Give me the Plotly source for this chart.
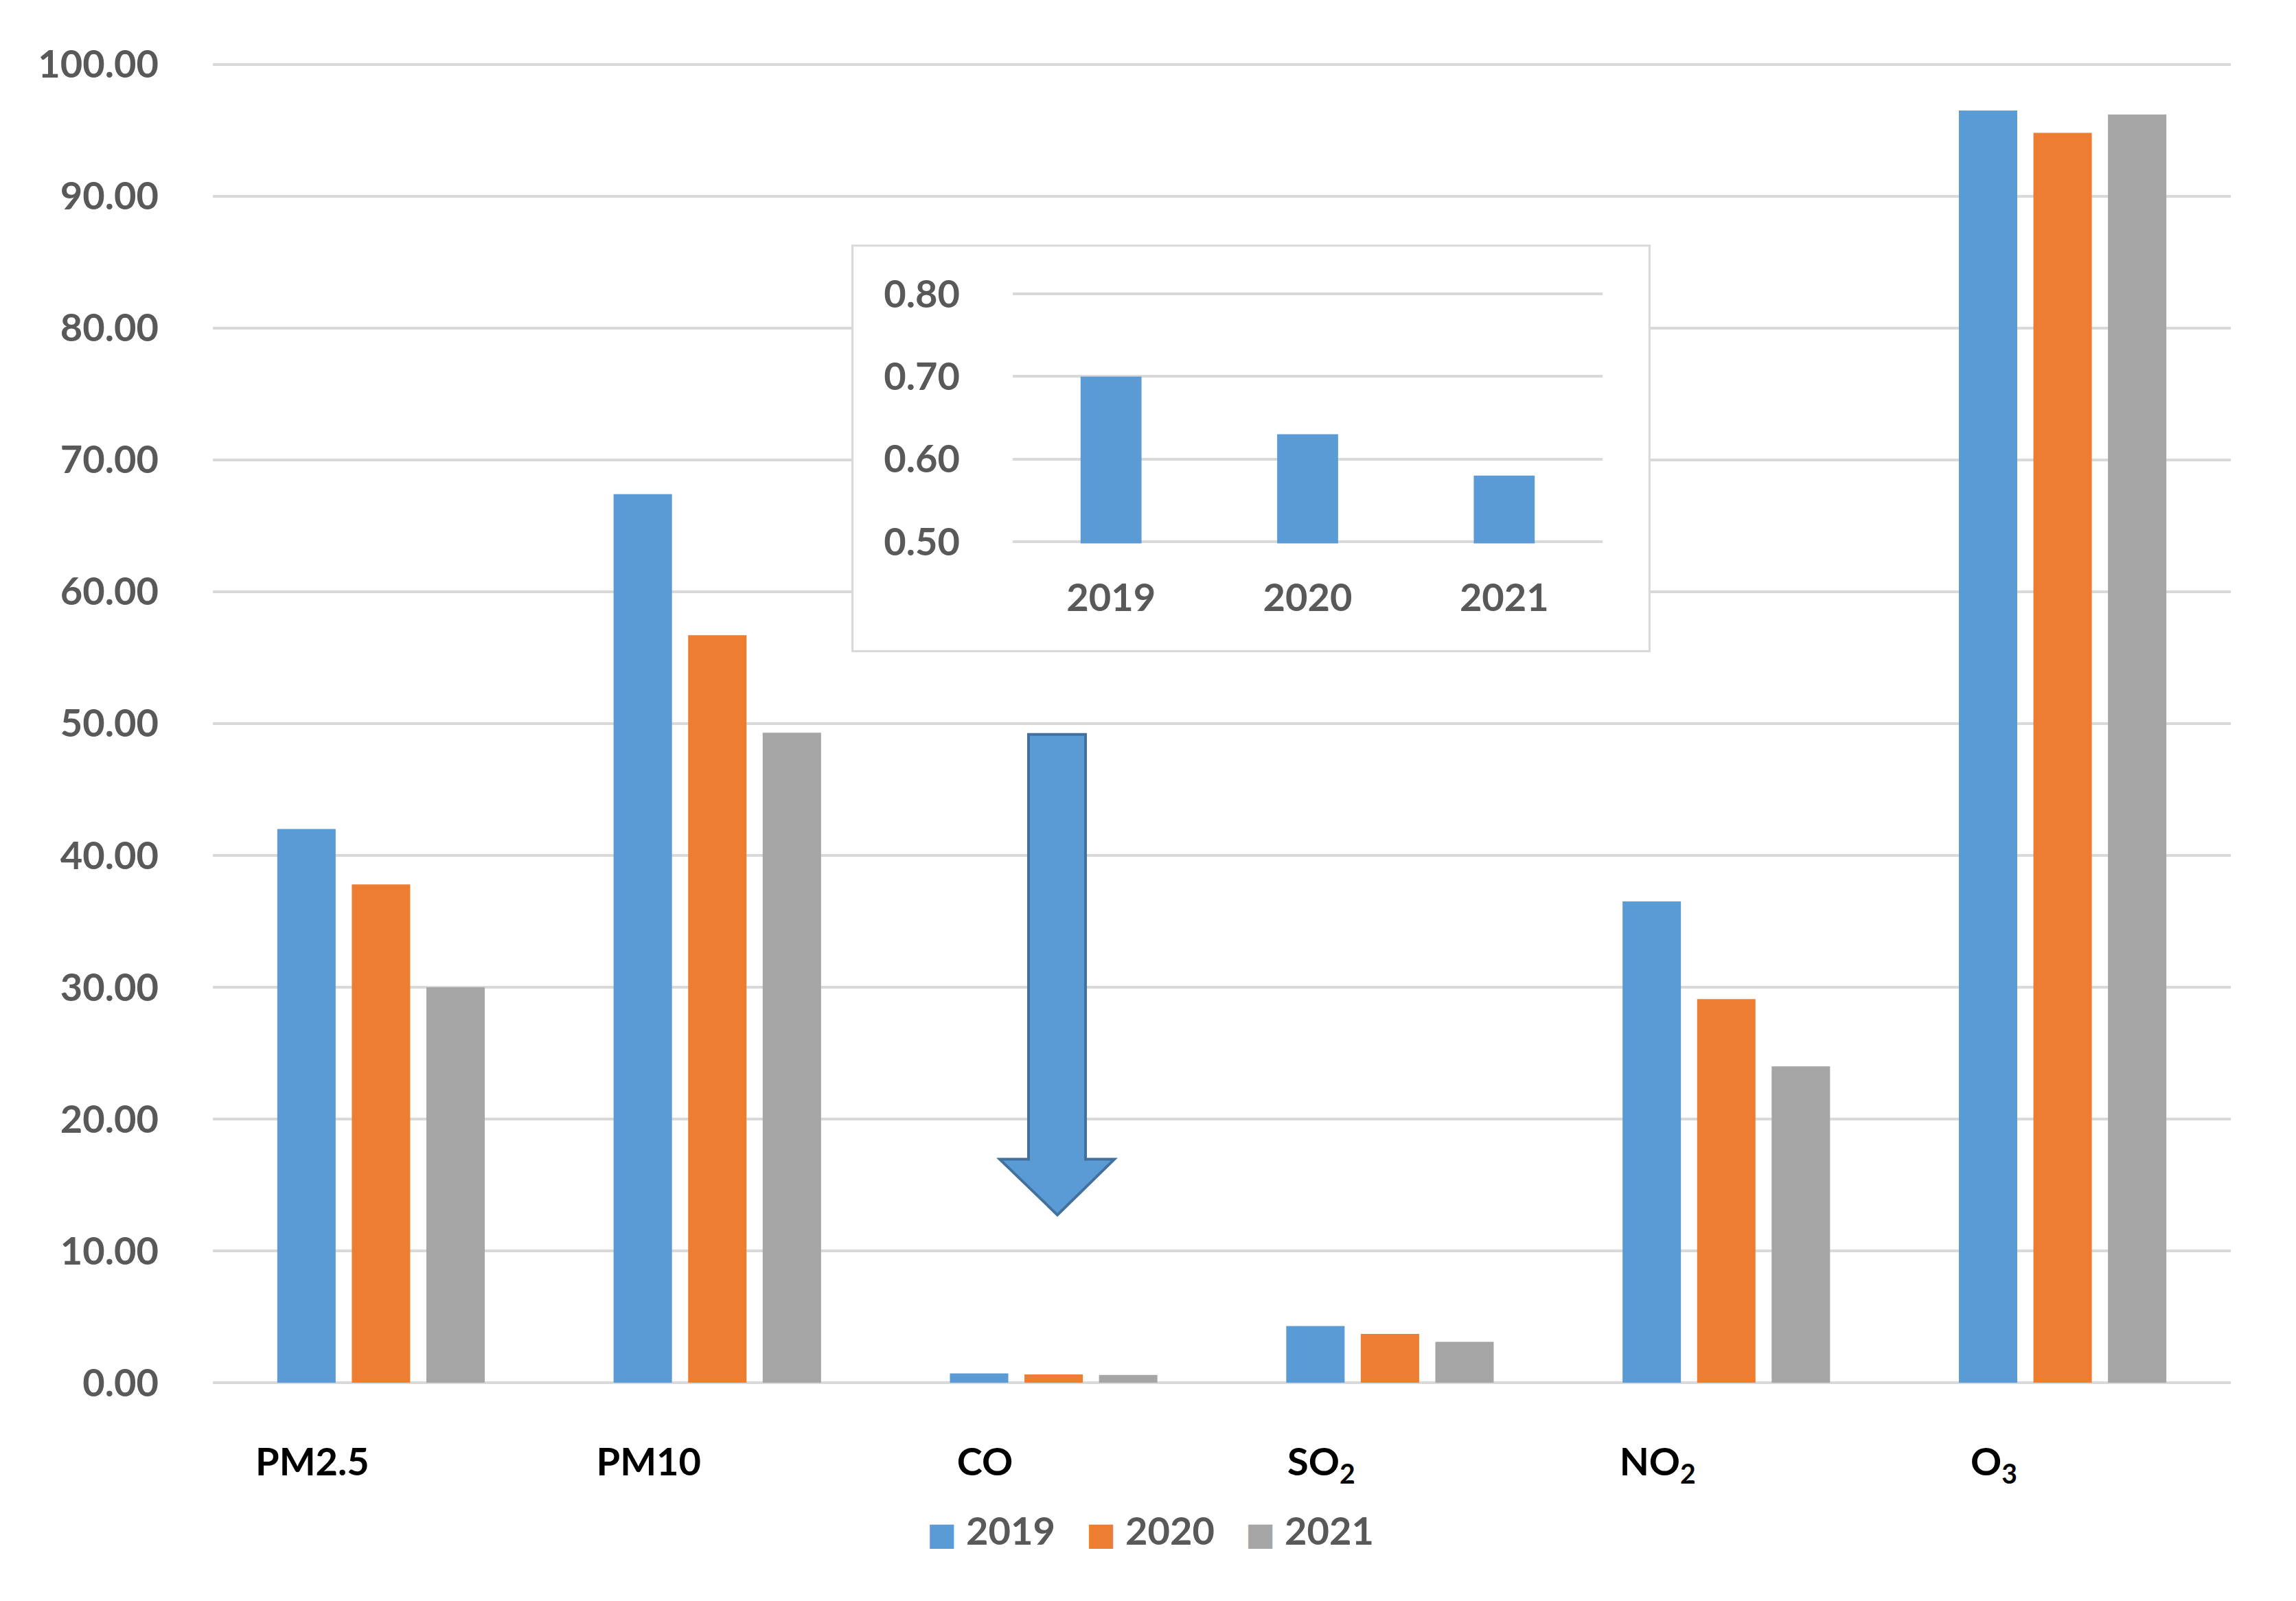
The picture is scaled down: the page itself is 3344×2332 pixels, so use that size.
import plotly.graph_objects as go

# ---- data ----
pollutants = ["PM2.5", "PM10", "CO", "SO<sub>2</sub>", "NO<sub>2</sub>", "O<sub>3</sub>"]
years = ["2019", "2020", "2021"]
v2019 = [42.0, 67.4, 0.70, 4.3, 36.5, 96.5]
v2020 = [37.8, 56.7, 0.63, 3.7, 29.1, 94.8]
v2021 = [30.0, 49.3, 0.58, 3.1, 24.0, 96.2]
co_values = [0.70, 0.63, 0.58]
main_ticks = [0, 10, 20, 30, 40, 50, 60, 70, 80, 90, 100]
inset_ticks = [0.5, 0.6, 0.7, 0.8]

colors = ["#5B9BD5", "#ED7D31", "#A5A5A5"]
GRID = "#D9D9D9"
FONT = "Lato, 'DejaVu Sans', sans-serif"

# page is shown with an 8px body margin; work in page pixels and convert
OFF = 8
PAGE_W, PAGE_H = 3344, 2332
W, H = PAGE_W - OFF, PAGE_H - OFF

# main plot geometry (page px)
X_LEFT, X_RIGHT = 310, 3249
Y_ZERO, PX_PER_UNIT = 2014.5, 19.21
Y_MAX = 100.3
Y_TOP = Y_ZERO - Y_MAX * PX_PER_UNIT

L = X_LEFT - OFF
R = W - (X_RIGHT - OFF)
T = Y_TOP - OFF
B = H - (Y_ZERO - OFF)
PW, PH = W - L - R, H - T - B


def px2paper(px, py):
    return ((px - OFF) - L) / PW, (H - B - (py - OFF)) / PH


fig = go.Figure()

for name, vals, c in zip(years, [v2019, v2020, v2021], colors):
    fig.add_trace(go.Bar(x=pollutants, y=vals, name=name, marker=dict(color=c, line=dict(width=0)),
                         showlegend=False, hoverinfo="skip"))

# legend entries
for name, c in zip(years, colors):
    fig.add_trace(go.Scatter(x=[None], y=[None], mode="lines", line=dict(width=0, color=c),
                             name=f'<span style="color:{c};font-size:46px">■</span> {name}',
                             showlegend=True))

# box subplot (white background of inset)
fig.add_trace(go.Scatter(x=[None], y=[None], xaxis="x2", yaxis="y2", showlegend=False, hoverinfo="skip"))

# inset bars
fig.add_trace(go.Bar(x=years, y=co_values, xaxis="x3", yaxis="y3", width=0.31,
                     marker=dict(color=colors[0], line=dict(width=0)), showlegend=False, hoverinfo="skip"))

bx0, by0 = px2paper(1240, 950)
bx1, by1 = px2paper(2404, 356)

# inset plot geometry (page px): 0.50 at 789, 0.80 at 428
IN_LO, IN_HI = 0.498, 0.803
in_px = (789 - 428) / 0.3
ix0, iy0 = px2paper(1475, 789 + (0.5 - IN_LO) * in_px)
ix1, iy1 = px2paper(2334, 428 - (IN_HI - 0.8) * in_px)

# arrow (decoration)
pts = [(1498, 1070), (1581, 1070), (1581, 1689), (1623, 1689), (1540, 1770),
       (1456, 1689), (1498, 1689)]
path = "M " + " L ".join("%.5f,%.5f" % px2paper(x, y) for x, y in pts) + " Z"

fig.update_layout(
    width=W, height=H,
    margin=dict(l=L, r=R, t=T, b=B, pad=0),
    paper_bgcolor="white", plot_bgcolor="white",
    barmode="group", bargap=0.335, bargroupgap=0.217,
    font=dict(family=FONT, size=56, color="#595959"),
    hovermode=False,
    xaxis=dict(showgrid=False, showline=False, ticks="", zeroline=False,
               tickfont=dict(family=FONT, size=56, color="black", weight="bold"),
               ticklabelstandoff=78, ticklabelshift=-100),
    yaxis=dict(range=[0, Y_MAX], tickvals=main_ticks, tickformat=".2f",
               showgrid=True, gridcolor=GRID, gridwidth=4,
               zeroline=True, zerolinecolor=GRID, zerolinewidth=4,
               showline=False, ticks="",
               tickfont=dict(family=FONT, size=56, color="#595959", weight="bold"),
               ticklabelstandoff=78),
    xaxis2=dict(domain=[bx0, bx1], anchor="y2", range=[0, 1], visible=False),
    yaxis2=dict(domain=[by0, by1], anchor="x2", range=[0, 1], visible=False),
    xaxis3=dict(domain=[ix0, ix1], anchor="y3", showgrid=False, zeroline=False, ticks="",
                tickfont=dict(family=FONT, size=56, color="#595959", weight="bold"),
                ticklabelstandoff=42),
    yaxis3=dict(domain=[iy0, iy1], anchor="x3", range=[IN_LO, IN_HI], tickvals=inset_ticks,
                tickformat=".2f", showgrid=True, gridcolor=GRID, gridwidth=4, zeroline=False,
                ticks="", tickfont=dict(family=FONT, size=56, color="#595959", weight="bold"),
                ticklabelstandoff=76),
    legend=dict(orientation="h", x=px2paper(1658, 0)[0], xanchor="center",
                y=px2paper(0, 2229)[1], yanchor="middle",
                font=dict(family=FONT, size=56, color="#595959", weight="bold"),
                itemwidth=30, tracegroupgap=0, bgcolor="rgba(0,0,0,0)"),
    shapes=[
        dict(type="rect", xref="x2", yref="y2", x0=0, x1=1, y0=0, y1=1, layer="below",
             fillcolor="white", line=dict(color=GRID, width=6)),
        dict(type="path", xref="paper", yref="paper", path=path, layer="above",
             fillcolor="#5B9BD5", line=dict(color="#41719C", width=4)),
    ],
)

fig.write_html("out.html")
